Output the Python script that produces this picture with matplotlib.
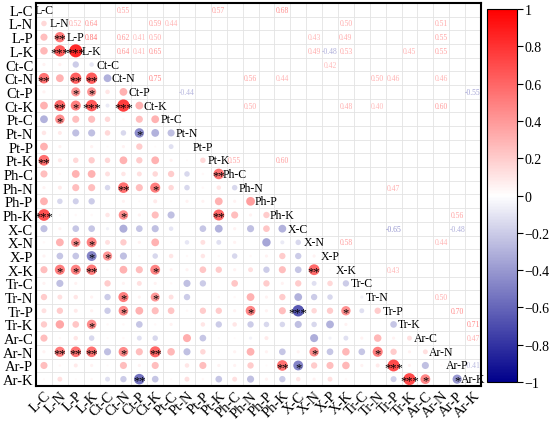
import numpy as np
import matplotlib
matplotlib.use('Agg')
import matplotlib.pyplot as plt
from matplotlib.colors import LinearSegmentedColormap, Normalize
import matplotlib.colorbar as mcb

plt.rcParams['font.family'] = ['Liberation Serif', 'DejaVu Serif']

labels = ['L-C', 'L-N', 'L-P', 'L-K', 'Ct-C', 'Ct-N', 'Ct-P', 'Ct-K',
          'Pt-C', 'Pt-N', 'Pt-P', 'Pt-K', 'Ph-C', 'Ph-N', 'Ph-P', 'Ph-K',
          'X-C', 'X-N', 'X-P', 'X-K', 'Tr-C', 'Tr-N', 'Tr-P', 'Tr-K',
          'Ar-C', 'Ar-N', 'Ar-P', 'Ar-K']

# lower triangle, row i holds correlations with columns 0..i-1
lower = [
    [],
    [0.15],
    [0.25, 0.52],
    [0.28, 0.64, 0.84],
    [0.05, 0.05, -0.20, -0.10],
    [0.55, 0.30, 0.62, 0.64, -0.30],
    [0.05, 0.02, 0.41, 0.41, 0.10, 0.30],
    [0.30, 0.59, 0.50, 0.65, -0.08, 0.75, 0.30],
    [-0.30, 0.44, 0.25, 0.25, 0.15, 0.03, 0.25, 0.30],
    [0.10, 0.08, -0.25, -0.25, 0.15, -0.15, -0.44, -0.30, -0.25],
    [0.30, 0.05, 0.00, 0.05, 0.02, 0.05, 0.20, 0.02, -0.12, 0.00],
    [0.57, 0.08, 0.15, 0.20, 0.15, 0.30, 0.20, 0.30, 0.05, 0.02, 0.15],
    [0.25, 0.03, 0.30, 0.30, 0.12, 0.10, 0.12, 0.15, 0.20, -0.15, 0.03, 0.55],
    [0.05, 0.08, 0.25, 0.25, -0.15, 0.56, 0.25, 0.50, 0.15, -0.15, 0.03, 0.10, -0.15],
    [0.30, -0.15, -0.18, -0.20, 0.00, 0.05, 0.02, 0.08, 0.02, 0.05, 0.05, 0.30, 0.05, 0.38],
    [0.68, 0.03, 0.03, 0.03, 0.10, 0.44, 0.05, 0.25, -0.25, 0.00, 0.00, 0.60, 0.25, 0.05, 0.20],
    [-0.25, 0.05, -0.22, -0.22, -0.05, -0.32, -0.22, -0.25, -0.10, 0.00, -0.22, -0.30, 0.05, -0.25, 0.22, -0.30],
    [0.03, 0.30, 0.43, 0.49, 0.12, 0.20, 0.05, 0.30, 0.02, -0.10, 0.12, -0.12, 0.05, 0.00, -0.35, -0.08, -0.15],
    [0.05, -0.22, -0.22, -0.48, 0.42, -0.25, 0.03, -0.15, 0.10, 0.03, 0.10, 0.03, -0.15, 0.03, 0.05, 0.20, -0.20, 0.05],
    [0.25, 0.50, 0.49, 0.53, 0.03, 0.30, 0.25, 0.48, 0.05, 0.05, 0.22, 0.20, 0.05, 0.12, -0.20, 0.25, -0.22, 0.58, 0.02],
    [0.05, -0.25, 0.05, 0.00, 0.20, 0.05, 0.12, 0.05, 0.03, -0.25, -0.20, 0.00, 0.22, 0.00, 0.20, 0.05, 0.20, -0.12, 0.15, -0.20],
    [0.20, 0.12, 0.10, 0.05, -0.20, 0.50, 0.05, 0.40, 0.12, -0.20, 0.00, 0.03, 0.03, 0.30, 0.05, 0.20, -0.30, -0.20, -0.15, 0.00, -0.05],
    [0.12, 0.20, 0.08, 0.05, -0.20, 0.46, 0.30, 0.25, 0.22, 0.03, 0.20, 0.20, 0.05, 0.47, 0.05, 0.25, -0.65, 0.15, 0.20, 0.43, -0.12, 0.20],
    [0.20, 0.35, 0.22, 0.45, 0.03, 0.03, -0.22, 0.03, 0.05, 0.00, 0.10, -0.20, 0.10, -0.20, -0.15, -0.15, -0.25, -0.15, -0.30, 0.05, 0.00, 0.00, -0.22],
    [0.25, 0.03, 0.10, -0.15, 0.02, 0.03, -0.12, -0.15, 0.00, 0.32, -0.22, 0.02, 0.02, -0.05, 0.08, 0.00, 0.00, -0.32, -0.05, -0.12, 0.05, 0.28, 0.05, 0.12],
    [0.05, 0.51, 0.55, 0.55, -0.25, 0.46, 0.25, 0.60, 0.28, -0.25, 0.15, 0.03, 0.05, 0.30, 0.05, -0.22, 0.05, 0.44, -0.22, 0.28, -0.22, 0.50, 0.20, 0.05, 0.12],
    [0.25, 0.03, 0.08, 0.05, 0.02, 0.25, 0.05, 0.25, 0.00, 0.10, 0.25, 0.05, 0.05, 0.20, 0.02, 0.56, -0.48, 0.20, 0.25, 0.28, 0.05, 0.08, 0.70, 0.05, -0.25, 0.02],
    [0.02, 0.12, 0.02, 0.03, -0.12, -0.20, -0.55, -0.22, 0.02, 0.12, 0.03, -0.22, 0.12, -0.25, 0.05, -0.20, 0.10, 0.05, 0.12, 0.03, 0.00, 0.00, -0.18, 0.71, 0.47, 0.00, -0.41],
]

# significant pairs (row, col, stars)
sig = [
    (2, 1, '**'), (3, 1, '***'), (3, 2, '***'), (5, 0, '**'), (5, 2, '**'),
    (5, 3, '**'), (6, 2, '*'), (6, 3, '*'), (7, 1, '**'), (7, 2, '*'),
    (7, 3, '***'), (7, 5, '***'), (8, 1, '*'), (9, 6, '*'), (11, 0, '**'),
    (12, 11, '**'), (13, 5, '**'), (13, 7, '*'), (15, 0, '***'), (15, 5, '*'),
    (15, 11, '**'), (17, 2, '*'), (17, 3, '*'), (18, 3, '*'), (18, 4, '*'),
    (19, 1, '*'), (19, 2, '*'), (19, 3, '**'), (19, 7, '*'), (19, 17, '**'),
    (21, 5, '*'), (21, 7, '*'), (22, 5, '*'), (22, 13, '*'), (22, 16, '***'),
    (22, 19, '*'), (23, 3, '*'), (25, 1, '**'), (25, 2, '**'), (25, 3, '**'),
    (25, 5, '*'), (25, 7, '**'), (25, 17, '*'), (25, 21, '*'), (26, 15, '**'),
    (26, 16, '*'), (26, 22, '***'), (27, 6, '**'), (27, 23, '***'),
    (27, 24, '*'), (27, 26, '*'),
]

n = len(labels)
R = np.eye(n)
for i, row in enumerate(lower):
    for j, v in enumerate(row):
        R[i, j] = v
        R[j, i] = v

cmap = LinearSegmentedColormap.from_list('corr', ['#00008B', 'white', '#FF0000'])
norm = Normalize(-1, 1)

fig = plt.figure(figsize=(5.5, 4.27), dpi=100)
ax = fig.add_axes([0.0655, 0.0937, 0.809, 0.897])

for k in range(n + 1):
    ax.axhline(k - 0.5, color='#e3e3e3', lw=0.6, zorder=1)
    ax.axvline(k - 0.5, color='#e3e3e3', lw=0.6, zorder=1)

ii, jj = np.tril_indices(n, -1)
vals = R[ii, jj]
ax.scatter(jj, ii, s=105 * np.abs(vals), c=vals, cmap=cmap, norm=norm,
           edgecolors='none', zorder=3)

for i, j, st in sig:
    ax.text(j, i + 0.12, st, ha='center', va='center', fontsize=9, zorder=4)
    r = R[i, j]
    ax.text(i, j, f'{r:.2f}', ha='center', va='center', fontsize=5.5,
            color=cmap(norm(r)), alpha=0.65, zorder=4)

for k in range(n):
    ax.text(k, k, labels[k], ha='center', va='center', fontsize=8.5, zorder=5)

ax.set_xlim(-0.5, n - 0.5)
ax.set_ylim(n - 0.5, -0.5)
ax.set_xticks(range(n))
ax.set_xticklabels(labels, rotation=45, ha='right', rotation_mode='anchor', fontsize=10.5)
ax.set_yticks(range(n))
ax.set_yticklabels(labels, fontsize=10.5)
ax.tick_params(length=0, pad=2)
for sp in ax.spines.values():
    sp.set_linewidth(1.5)

cax = fig.add_axes([0.885, 0.103, 0.0545, 0.8735])
cb = mcb.ColorbarBase(cax, cmap=cmap, norm=norm, ticks=np.linspace(-1, 1, 11))
cb.ax.set_yticklabels(['\u22121', '\u22120.8', '\u22120.6', '\u22120.4', '\u22120.2', '0',
                       '0.2', '0.4', '0.6', '0.8', '1'], fontsize=10)
cb.ax.tick_params(length=4, width=0.8, pad=1.5)
cb.outline.set_linewidth(0.8)

plt.savefig('out.png', dpi=100)
